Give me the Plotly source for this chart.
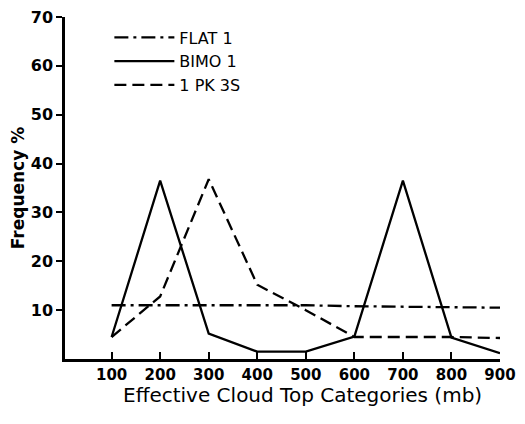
import plotly.graph_objects as go

categories = [100, 200, 300, 400, 500, 600, 700, 800, 900]
flat1 = [11, 11, 11, 11, 11, 10.8, 10.7, 10.6, 10.5]
bimo1 = [4.5, 36.5, 5.2, 1.5, 1.5, 4.6, 36.5, 4.4, 1.2]
pk3s = [4.5, 12.8, 36.8, 15.2, 10, 4.5, 4.5, 4.5, 4.3]
y_ticks = [10, 20, 30, 40, 50, 60, 70]
x_title = "Effective Cloud Top Categories (mb)"

font_fam = "DejaVu Sans, Verdana, sans-serif"

fig = go.Figure()
fig.add_trace(go.Scatter(x=categories, y=flat1, mode="lines", name="FLAT 1",
                         line=dict(color="black", width=2.3, dash="14px,5px,3px,5px")))
fig.add_trace(go.Scatter(x=categories, y=bimo1, mode="lines", name="BIMO 1",
                         line=dict(color="black", width=2.3)))
fig.add_trace(go.Scatter(x=categories, y=pk3s, mode="lines", name="1 PK 3S",
                         line=dict(color="black", width=2.3, dash="12px,6px")))

fig.add_annotation(text=x_title, xref="paper", yref="paper", x=0.547, y=-0.105,
                   xanchor="center", yanchor="middle", showarrow=False,
                   font=dict(size=20, family=font_fam, color="black"))

fig.update_layout(
    width=525, height=424,
    margin=dict(l=57, r=33, t=9, b=73),
    paper_bgcolor="white", plot_bgcolor="white",
    font=dict(family=font_fam, color="black", size=14),
    showlegend=True,
    legend=dict(x=0.102, y=0.99, xanchor="left", yanchor="top",
                bgcolor="rgba(0,0,0,0)", font=dict(size=16),
                tracegroupgap=0, itemwidth=60),
    xaxis=dict(range=[4, 900], tickvals=categories, ticks="inside", ticklen=7,
               tickwidth=1.5, tickcolor="black", showline=True, linecolor="black",
               linewidth=2.5, showgrid=False, zeroline=False, automargin=False,
               tickfont=dict(size=15, weight="bold")),
    yaxis=dict(range=[0, 70], tickvals=y_ticks, ticks="outside", ticklen=6,
               tickwidth=1.5, tickcolor="black", showline=True, linecolor="black",
               linewidth=2.5, showgrid=False, zeroline=False, automargin=False,
               ticklabeloverflow="allow",
               tickfont=dict(size=16, weight="bold"),
               title=dict(text="Frequency %", font=dict(size=17, weight="bold"), standoff=6)),
)

fig.write_html("out.html")
